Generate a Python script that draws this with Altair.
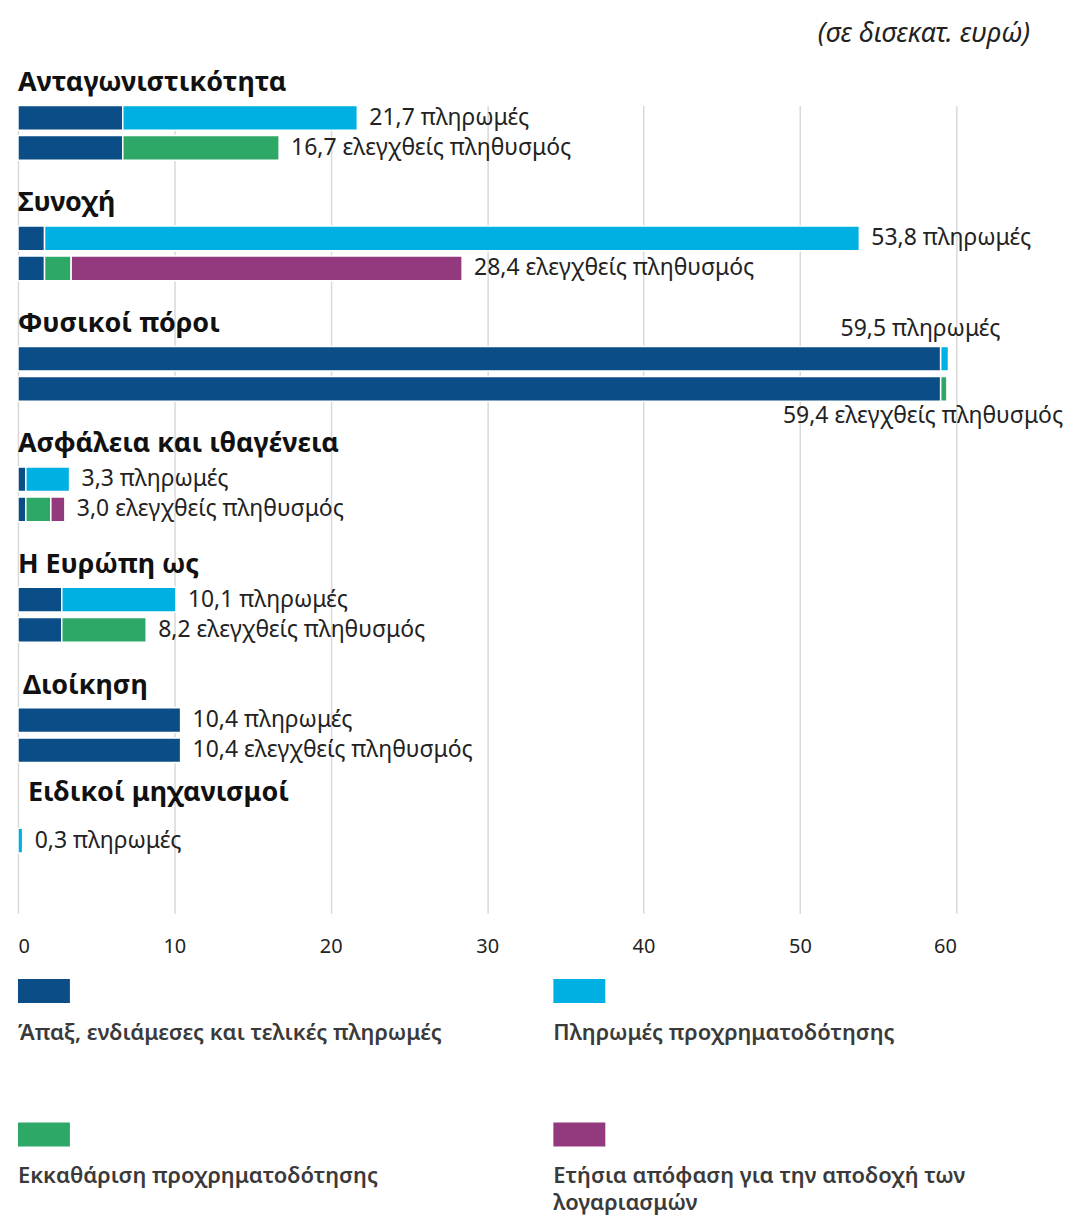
import altair as alt
import pandas as pd

# ---------------- data ----------------
categories = ["Ανταγωνιστικότητα", "Συνοχή", "Φυσικοί πόροι", "Ασφάλεια και ιθαγένεια",
              "Η Ευρώπη ως", "Διοίκηση", "Ειδικοί μηχανισμοί"]
series = ["Άπαξ, ενδιάμεσες και τελικές πληρωμές", "Πληρωμές προχρηματοδότησης",
          "Εκκαθάριση προχρηματοδότησης", "Ετήσια απόφαση για την αποδοχή των λογαριασμών"]
colors = ["#0a4d87", "#00b0e3", "#2ea866", "#933a7f"]

# payments bar: final payments + pre-financing
pay_final = [6.7, 1.7, 59.0, 0.5, 2.8, 10.4, 0.0]
pay_prefin = [15.0, 52.1, 0.5, 2.8, 7.3, 0.0, 0.3]
pay_total = [21.7, 53.8, 59.5, 3.3, 10.1, 10.4, 0.3]
# audited population bar: final payments + clearing + annual acceptance
aud_final = [6.7, 1.7, 59.0, 0.5, 2.8, 10.4, None]
aud_clear = [10.0, 1.7, 0.4, 1.6, 5.4, 0.0, None]
aud_annual = [0.0, 25.0, 0.0, 0.9, 0.0, 0.0, None]
aud_total = [16.7, 28.4, 59.4, 3.0, 8.2, 10.4, None]

pay_word = "πληρωμές"
aud_word = "ελεγχθείς πληθυσμός"
axis_ticks = [0, 10, 20, 30, 40, 50, 60]

# ---------------- tables ----------------
rows = []
for i in range(len(categories)):
    rows += [f"{i}p", f"{i}a", f"{i}g"]
    if i < len(categories) - 1:
        rows.append(f"{i}h")

seg = []
lab = []
for i, c in enumerate(categories):
    for k, v in enumerate([pay_final[i], pay_prefin[i]]):
        if v:
            seg.append({"row": f"{i}p", "series": series[[0, 1][k]], "value": v, "ord": k})
    for k, v in enumerate([aud_final[i], aud_clear[i], aud_annual[i]]):
        if v:
            seg.append({"row": f"{i}a", "series": series[[0, 2, 3][k]], "value": v, "ord": k})
    lab.append({"row": f"{i}p", "cat": c, "kind": "p", "total": pay_total[i],
                "text": f"{pay_total[i]:.1f}".replace(".", ",") + " " + pay_word})
    if aud_total[i] is not None:
        lab.append({"row": f"{i}a", "cat": c, "kind": "a", "total": aud_total[i],
                    "text": f"{aud_total[i]:.1f}".replace(".", ",") + " " + aud_word})
seg_df = pd.DataFrame(seg)
lab_df = pd.DataFrame(lab)
cat_df = pd.DataFrame({"cat": categories, "row": [f"{i}p" for i in range(len(categories))],
                       "zero": [0] * len(categories)})

FONT = "Noto Sans"
LFS = 23
TFS = 27
color_scale = alt.Scale(domain=series, range=colors)
x_scale = alt.Scale(domain=[0, 60], nice=False, zero=True)
y_enc = alt.Y("row:N", sort=rows, scale=alt.Scale(domain=rows, paddingInner=0.18, paddingOuter=0), axis=None)

bars = alt.Chart(seg_df).mark_bar(stroke="white", strokeWidth=1.5).encode(
    x=alt.X("value:Q", stack="zero", scale=x_scale,
            axis=alt.Axis(values=axis_ticks, grid=True, ticks=False, domain=False, title=None,
                          labelPadding=23, labelFontSize=20, labelFont=FONT, labelColor="#222",
                          gridColor="#d9d9d9", gridWidth=1.5)),
    y=y_enc,
    color=alt.Color("series:N", scale=color_scale, legend=None),
    order=alt.Order("ord:Q"),
)

text_base = alt.Chart(lab_df)
labels = text_base.mark_text(align="left", baseline="middle", dx=12, font=FONT, fontSize=LFS, color="#222").encode(
    x=alt.X("total:Q", scale=x_scale), y=y_enc, text="text:N"
).transform_filter(alt.datum.cat != categories[2])
lab_up = text_base.mark_text(align="center", baseline="middle", dx=-28, dy=-30, font=FONT, fontSize=LFS, color="#222").encode(
    x=alt.X("total:Q", scale=x_scale), y=y_enc, text="text:N"
).transform_filter((alt.datum.cat == categories[2]) & (alt.datum.kind == "p"))
lab_down = text_base.mark_text(align="center", baseline="middle", dx=-24, dy=27, font=FONT, fontSize=LFS, color="#222").encode(
    x=alt.X("total:Q", scale=x_scale), y=y_enc, text="text:N"
).transform_filter((alt.datum.cat == categories[2]) & (alt.datum.kind == "a"))

titles = alt.Chart(cat_df).mark_text(align="left", baseline="middle", dy=-35, font=FONT, fontSize=TFS,
                                     fontWeight="bold", color="#111").encode(
    x=alt.X("zero:Q", scale=x_scale), y=y_enc, text="cat:N"
).transform_filter((alt.datum.cat != categories[-1]) & (alt.datum.cat != categories[-2]))
title_admin = alt.Chart(cat_df).mark_text(align="left", baseline="middle", dy=-34, dx=5, font=FONT, fontSize=TFS,
                                          fontWeight="bold", color="#111").encode(
    x=alt.X("zero:Q", scale=x_scale), y=y_enc, text="cat:N"
).transform_filter(alt.datum.cat == categories[-2])
title_last = alt.Chart(cat_df).mark_text(align="left", baseline="middle", dy=-48, dx=10, font=FONT, fontSize=TFS,
                                         fontWeight="bold", color="#111").encode(
    x=alt.X("zero:Q", scale=x_scale), y=y_enc, text="cat:N"
).transform_filter(alt.datum.cat == categories[-1])

main = alt.layer(bars, labels, lab_up, lab_down, titles, title_admin, title_last).properties(
    width=941, height=810,
    title=alt.TitleParams("(σε δισεκατ. ευρώ)", anchor="end", frame="group", dx=74, offset=21,
                          font=FONT, fontSize=27, fontStyle="italic", fontWeight="normal", color="#222"),
)

# ---------------- legend (swatch above label, 2x2) ----------------
leg_df = pd.DataFrame({"series": series, "col": ["c0", "c1", "c0", "c1"], "lrow": ["r0", "r0", "r1", "r1"]})
leg_x = alt.X("col:N", scale=alt.Scale(domain=["c0", "c1"], paddingInner=0.903, paddingOuter=0), axis=None)
leg_y = alt.Y("lrow:N", scale=alt.Scale(domain=["r0", "r1"], paddingInner=0.833, paddingOuter=0), axis=None)
sw = alt.Chart(leg_df).mark_rect().encode(
    x=leg_x, y=leg_y, color=alt.Color("series:N", scale=color_scale, legend=None))
lt = alt.Chart(leg_df).mark_text(align="left", baseline="top", dy=32, font=FONT, fontSize=22, fontWeight=600,
                                 color="#3a3a3a", lineHeight=27, lineBreak="|").encode(
    x=alt.X("col:N", scale=alt.Scale(domain=["c0", "c1"], paddingInner=0.903, paddingOuter=0), axis=None, bandPosition=0),
    y=leg_y,
    text="lab:N",
).transform_calculate(lab="replace(datum.series, 'αποδοχή των ', 'αποδοχή των|')")
legend = alt.layer(sw, lt).properties(width=589, height=168)

chart = alt.vconcat(main, legend, spacing=22).resolve_scale(x="independent", y="independent").properties(
    padding={"left": 9, "top": 10, "right": 0, "bottom": 40}
).configure_view(stroke=None)

chart.save("out.html", embed_options={"renderer": "svg", "actions": False})
